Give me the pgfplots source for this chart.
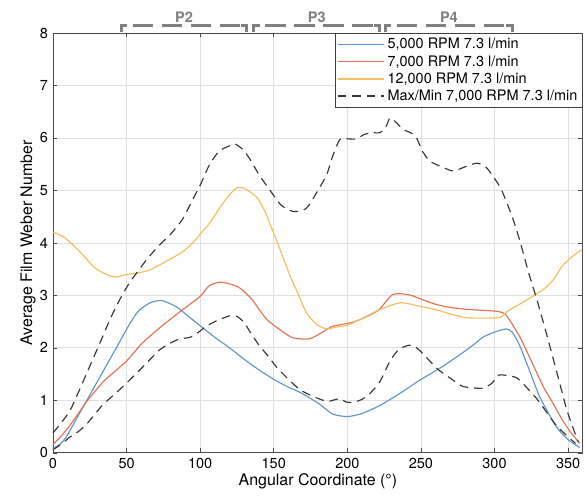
\documentclass[border=0pt]{standalone}
\usepackage{fontspec}
\setmainfont{TeX Gyre Heros}
\usepackage{pgfplots}
\pgfplotsset{compat=1.18}

\definecolor{cblue}{RGB}{95,150,205}
\definecolor{cred}{RGB}{228,115,85}
\definecolor{cyel}{RGB}{243,190,95}
\definecolor{cdash}{RGB}{55,55,55}
\definecolor{pgray}{RGB}{128,128,128}

% bracket over a phase: start, end, middle, label
\newcommand{\phasebr}[4]{%
  \draw[pgray,line width=2pt] ([yshift=0.5pt]axis cs:#1,8) -- ([yshift=5pt]axis cs:#1,8) -- ++(4pt,0);
  \draw[pgray,line width=2pt] ([yshift=0.5pt]axis cs:#2,8) -- ([yshift=5pt]axis cs:#2,8) -- ++(-4pt,0);
  \draw[pgray,line width=2pt,dash pattern=on 14pt off 6pt,dash phase=-4pt]
    ([yshift=5pt,xshift=4pt]axis cs:#1,8) -- ([yshift=5pt,xshift=-4pt]axis cs:#2,8);
  \node[pgray,font=\bfseries\fontsize{10}{12}\selectfont,anchor=south,inner sep=1pt,fill=white]
    at ([yshift=6pt]axis cs:#3,8) {#4};
}

\begin{document}
\begin{tikzpicture}
\begin{axis}[
  scale only axis,
  width=366pt,height=290pt,
  xmin=0,xmax=360,ymin=0,ymax=8,
  xtick={0,50,...,350},ytick={0,1,...,8},
  grid=major,grid style={black!12,line width=0.5pt},
  axis line style={black!70,line width=0.6pt},
  tick style={black!70,line width=0.4pt},
  tick align=inside,major tick length=3pt,
  ticklabel style={font=\fontsize{10}{12}\selectfont},
  /pgf/number format/assume math mode=true,
  xlabel={Angular Coordinate (°)},
  ylabel={Average Film Weber Number},
  label style={font=\fontsize{11}{13}\selectfont},
  xlabel style={yshift=3pt},
  ylabel style={yshift=-4pt},
  legend style={at={(1,1)},anchor=north east,draw=black!75,line width=0.5pt,
    fill=white,font=\fontsize{10}{11.5}\selectfont,inner sep=1.5pt,
    cells={anchor=west},row sep=-1pt},
  legend image code/.code={\draw[#1] (0pt,0pt) -- (32pt,0pt);},
  clip=false,
  every axis plot/.append style={line width=0.8pt,smooth,tension=0.4},
]
\addplot[cblue] coordinates {
(0,0.08) (5,0.17) (9,0.3) (15,0.6) (23,1.0) (34,1.55) (45,2.1) (52,2.45)
(58,2.7) (66,2.86) (74,2.9) (84,2.78) (92,2.6) (101,2.4) (110,2.2) (120,2.0)
(130,1.78) (140,1.58) (150,1.4) (160,1.25) (168,1.15) (180,0.95) (190,0.74)
(200,0.69) (210,0.75) (222,0.9) (235,1.12) (249,1.38) (265,1.65) (283,2.0)
(292,2.2) (300,2.3) (308,2.36) (312,2.3) (317,2.05) (324,1.55) (331,1.05)
(342,0.5) (350,0.25) (358,0.1)};
\addlegendentry{5,000 RPM 7.3 l/min}
\addplot[cred] coordinates {
(0,0.16) (5,0.3) (11.5,0.52) (23,0.98) (34,1.35) (42,1.55) (50,1.75) (61,2.1)
(75,2.44) (85,2.66) (93,2.83) (100,2.98) (106,3.18) (113,3.25) (120,3.22)
(127,3.14) (135,2.93) (145,2.55) (155,2.33) (163,2.19) (174,2.17) (182,2.28)
(190,2.41) (204,2.49) (215,2.62) (222,2.74) (231,3.02) (242,3.01) (250,2.93)
(260,2.83) (270,2.77) (283,2.73) (295,2.71) (303,2.69) (308,2.62) (317,2.22)
(325,1.75) (333,1.27) (340,0.93) (346,0.63) (352,0.38) (358,0.18)};
\addlegendentry{7,000 RPM 7.3 l/min}
\addplot[cyel] coordinates {
(0,4.2) (7,4.12) (14,3.95) (21,3.75) (27,3.56) (32,3.46) (38,3.38) (43,3.35)
(50,3.4) (57,3.42) (66,3.49) (79,3.68) (88,3.83) (95,4.0) (101,4.2) (107,4.4)
(114,4.7) (120,4.92) (125,5.05) (129,5.05) (134,4.97) (139,4.85) (144,4.6)
(150,4.18) (156,3.75) (161,3.38) (167,3.0) (172,2.68) (179,2.45) (186,2.36)
(193,2.4) (200,2.43) (210,2.56) (215,2.63) (222,2.73) (236,2.86) (248,2.8)
(260,2.73) (272,2.63) (283,2.57) (301,2.57) (305,2.6) (310,2.72) (320,2.88)
(333,3.11) (340,3.3) (346,3.56) (352,3.72) (359,3.87)};
\addlegendentry{12,000 RPM 7.3 l/min}
\addplot[cdash,dash pattern=on 6pt off 4pt] coordinates {
(0,0.38) (5,0.55) (11.5,0.8) (18,1.2) (25,1.65) (32,2.1) (38.7,2.54) (45,2.9)
(52,3.24) (63.6,3.68) (72,3.95) (79.4,4.15) (88,4.45) (95,4.83) (100,5.1)
(106.5,5.5) (113,5.75) (120,5.85) (124,5.88) (129,5.78) (134,5.59) (140,5.3)
(147.5,5.0) (155,4.72) (163,4.6) (170,4.62) (174,4.72) (180,5.0) (186,5.3)
(190,5.65) (195,5.97) (201.8,5.98) (206,5.98) (211,6.06) (216,6.1) (222,6.1)
(226,6.2) (229,6.38) (233,6.3) (238,6.16) (243,6.1) (247,6.0) (251,5.75)
(256,5.56) (264,5.45) (272,5.37) (280,5.45) (288,5.52) (294,5.45) (299,5.27)
(303,5.1) (306,4.93) (312,4.5) (317,4.06) (323,3.45) (329,2.9) (335,2.3)
(340,1.78) (345,1.25) (349,0.83) (353,0.5) (357,0.2)};
\addlegendentry{Max/Min 7,000 RPM 7.3 l/min}
\addplot[cdash,dash pattern=on 6pt off 4pt,forget plot] coordinates {
(0,0.06) (5,0.15) (11.5,0.3) (17,0.4) (23,0.55) (28,0.72) (34,0.92) (42,1.12)
(50,1.33) (58,1.55) (66,1.78) (72,1.95) (79,2.08) (86,2.17) (93,2.2) (99,2.3)
(104,2.41) (110,2.5) (116,2.57) (120,2.61) (125,2.6) (130,2.48) (134,2.3)
(140,2.05) (146,1.85) (152,1.63) (160,1.4) (168,1.2) (177,1.07) (186,0.98)
(190,1.0) (195,1.03) (199,0.97) (204,0.96) (210,1.02) (215,1.12) (222,1.35)
(229,1.75) (235,1.97) (242,2.05) (247,2.0) (251,1.9) (256,1.75) (262,1.58)
(270,1.42) (278,1.27) (285,1.24) (292,1.23) (298,1.32) (303,1.48) (309,1.47)
(315,1.43) (320,1.3) (329,1.02) (336,0.75) (342,0.52) (349,0.33) (355,0.18)};
% phase brackets above the axis
\phasebr{46.5}{131.5}{89}{P2}
\phasebr{136.5}{222}{179.25}{P3}
\phasebr{226}{312}{269}{P4}
\path (rel axis cs:0,0) ++(-36.6pt,-32.4pt) coordinate (bl);
\path (rel axis cs:1,1) ++(1.4pt,22.8pt) coordinate (tr);
\path (bl) -- (tr);
\end{axis}
\end{tikzpicture}
\end{document}
